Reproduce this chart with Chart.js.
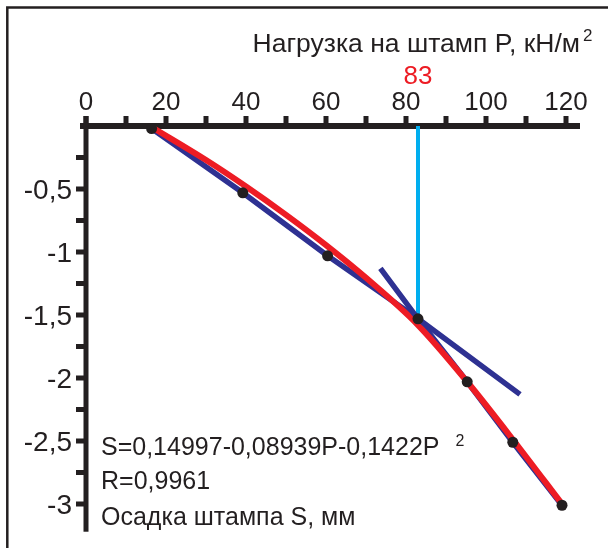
<!DOCTYPE html>
<html>
<head>
<meta charset="utf-8">
<script src="https://cdn.jsdelivr.net/npm/chart.js@4/dist/chart.umd.min.js"></script>
<style>
html,body{margin:0;padding:0;background:#fff;}
#wrap{width:608px;height:548px;position:relative;}
</style>
</head>
<body>
<div id="wrap"><canvas id="c" width="608" height="548"></canvas></div>
<script>
// ---- data ----
const pTicks = [0, 20, 40, 60, 80, 100, 120];
const pMinorTicks = [0, 10, 20, 30, 40, 50, 60, 70, 80, 90, 100, 110, 120];
const sTicks = [-0.5, -1, -1.5, -2, -2.5, -3];
const sTickLabels = ['-0,5', '-1', '-1,5', '-2', '-2,5', '-3'];
const sMinorTicks = [-0.25, -0.5, -0.75, -1, -1.25, -1.5, -1.75, -2, -2.25, -2.5, -2.75, -3];

const loadP   = [16.4, 39.2, 60.4, 83, 95.3, 106.7, 119];
const settleS = [-0.02, -0.53, -1.03, -1.53, -2.03, -2.51, -3.01];

const fitP = [16.5, 30, 40, 50, 60, 70, 83, 95.3, 107, 119];
const fitS = [-0.01, -0.27, -0.48, -0.705, -0.945, -1.205, -1.58, -2.03, -2.5, -3.0];

const tangentP = [73.6, 83, 108.5];
const tangentS = [-1.13, -1.53, -2.13];

const markP = 83;
const markS = -1.53;

const xTitle = 'Нагрузка на штамп P, кН/м';
const formulaText = 'S=0,14997-0,08939P-0,1422P';
const rText = 'R=0,9961';
const yTitle = 'Осадка штампа S, мм';

const toXY = (xs, ys) => xs.map((x, i) => ({x: x, y: ys[i]}));

const FONT = '"Liberation Sans", Arial, sans-serif';
const BLACK = '#231f20';

const decor = {
  id: 'decor',
  beforeDatasetsDraw(chart) {
    const ctx = chart.ctx;
    const xs = chart.scales.x, ys = chart.scales.y;
    const x0 = xs.getPixelForValue(0), y0 = ys.getPixelForValue(0);
    ctx.save();
    // frame
    ctx.strokeStyle = BLACK;
    ctx.lineWidth = 2.5;
    ctx.beginPath();
    ctx.moveTo(7.3, 548);
    ctx.lineTo(7.3, 7.5);
    ctx.lineTo(608, 7.5);
    ctx.stroke();

    ctx.fillStyle = BLACK;
    // horizontal axis
    ctx.fillRect(x0 - 6, y0 - 3, xs.getPixelForValue(123.5) - (x0 - 6), 6);
    // vertical axis
    ctx.fillRect(x0 - 2.5, y0 - 10, 5, ys.getPixelForValue(-3.22) - (y0 - 10));
    // x ticks (upwards)
    pMinorTicks.forEach(v => {
      const px = xs.getPixelForValue(v);
      ctx.fillRect(px - 2.5, y0 - 10, 5, 10);
    });
    // y ticks (leftwards)
    sMinorTicks.forEach(v => {
      const py = ys.getPixelForValue(v);
      ctx.fillRect(x0 - 10, py - 2.5, 10, 5);
    });

    // tick labels
    ctx.font = '26px ' + FONT;
    ctx.textBaseline = 'alphabetic';
    ctx.textAlign = 'center';
    pTicks.forEach(v => {
      ctx.fillText(String(v), xs.getPixelForValue(v), 110);
    });
    ctx.font = '28px ' + FONT;
    ctx.textAlign = 'right';
    sTicks.forEach((v, i) => {
      ctx.fillText(sTickLabels[i], x0 - 14, ys.getPixelForValue(v) + 10);
    });

    // top axis title with superscript
    ctx.textAlign = 'left';
    ctx.font = '26.5px ' + FONT;
    const tw = ctx.measureText(xTitle).width;
    const supW = 10;
    const tx = 592 - supW - 2 - tw;
    ctx.fillText(xTitle, tx, 52);
    ctx.font = '17px ' + FONT;
    ctx.fillText('2', tx + tw + 3, 41);

    // red marker label
    ctx.fillStyle = '#ed1c24';
    ctx.font = '26px ' + FONT;
    ctx.textAlign = 'center';
    ctx.fillText(String(markP), xs.getPixelForValue(markP), 84);

    // bottom texts
    ctx.fillStyle = BLACK;
    ctx.textAlign = 'left';
    ctx.font = '25px ' + FONT;
    ctx.fillText(formulaText, 101, 455);
    const fw = ctx.measureText(formulaText).width;
    ctx.font = '16px ' + FONT;
    ctx.fillText('2', 101 + fw + 16, 446);
    ctx.font = '25px ' + FONT;
    ctx.fillText(rText, 101, 489);
    ctx.fillText(yTitle, 101, 525);
    ctx.restore();
  }
};

new Chart(document.getElementById('c'), {
  type: 'line',
  data: {
    datasets: [
      { // points
        data: toXY(loadP, settleS),
        showLine: false,
        pointRadius: 5.5,
        pointBackgroundColor: BLACK,
        pointBorderWidth: 0,
        order: 0,
        clip: false
      },
      { // tangent
        data: toXY(tangentP, tangentS),
        borderColor: '#2e3192',
        borderWidth: 5.5,
        pointRadius: 0,
        tension: 0,
        borderCapStyle: 'butt',
        order: 1,
        clip: false
      },
      { // fitted curve
        data: toXY(fitP, fitS),
        borderColor: '#ed1c24',
        borderWidth: 6,
        pointRadius: 0,
        cubicInterpolationMode: 'monotone',
        order: 2,
        clip: false
      },
      { // broken line through points
        data: toXY(loadP, settleS),
        borderColor: '#2e3192',
        borderWidth: 5.5,
        pointRadius: 0,
        tension: 0,
        order: 3,
        clip: false
      },
      { // vertical marker
        data: [{x: markP, y: 0}, {x: markP, y: markS}],
        borderColor: '#00aeef',
        borderWidth: 4,
        pointRadius: 0,
        order: 4,
        clip: false
      }
    ]
  },
  options: {
    responsive: false,
    devicePixelRatio: 1,
    animation: false,
    events: [],
    layout: { padding: { left: 86, right: 42, top: 126, bottom: 44 } },
    plugins: { legend: { display: false }, tooltip: { enabled: false } },
    scales: {
      x: { type: 'linear', min: 0, max: 120, display: false },
      y: { type: 'linear', min: -3, max: 0, display: false }
    }
  },
  plugins: [decor]
});
</script>
</body>
</html>
